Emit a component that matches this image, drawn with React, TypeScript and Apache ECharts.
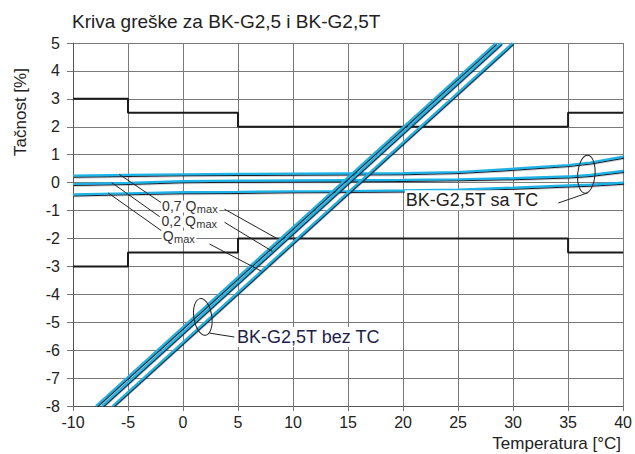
import React, { useEffect, useRef } from "react";
import * as echarts from "echarts";

// ---- data ----
const temperatures = [-10, -5, 0, 5, 10, 15, 20, 25, 30, 35, 37, 40];
const saTC_07Qmax = [0.25, 0.28, 0.3, 0.31, 0.32, 0.33, 0.34, 0.38, 0.5, 0.63, 0.72, 0.93];
const saTC_02Qmax = [-0.05, -0.01, 0.05, 0.07, 0.08, 0.09, 0.1, 0.12, 0.16, 0.22, 0.28, 0.42];
const saTC_Qmax = [-0.42, -0.38, -0.34, -0.33, -0.31, -0.3, -0.28, -0.25, -0.18, -0.1, -0.07, 0.0];

const bezTC_errors = [-8, 5];
const bezTC_temps_07Qmax = [-7.92, 28.43];
const bezTC_temps_02Qmax = [-7.37, 28.92];
const bezTC_temps_Qmax = [-6.4, 29.95];

const limitTemps = [-10, -5, 5, 35, 40];
const upperLimit = [3, 2.5, 2, 2.5, 2.5];
const lowerLimit = [-3, -2.5, -2, -2.5, -2.5];

const title = "Kriva greške za BK-G2,5 i BK-G2,5T";
const yName = "Tačnost [%]";
const xName = "Temperatura [°C]";
const labelSaTC = "BK-G2,5T sa TC";
const labelBezTC = "BK-G2,5T bez TC";
const qLabels = ["0,7 Q", "0,2 Q", "Q"];
const qSub = "max";

const FONT = "Liberation Sans, Arial, sans-serif";
const BLUE = "#1db3e6";
const DARK = "#1a1a1a";

const zip = (xs: number[], ys: number[]) => xs.map((x, i) => [x, ys[i]]);

function measure(text: string, size: number) {
  const c = document.createElement("canvas").getContext("2d");
  if (!c) return text.length * size * 0.55;
  c.font = `${size}px ${FONT}`;
  return c.measureText(text).width;
}

export default function App() {
  const ref = useRef<HTMLDivElement>(null);
  useEffect(() => {
    if (!ref.current) return;
    const chart = echarts.init(ref.current, null, { renderer: "svg" });
    const blueStyle = {
      color: BLUE,
      width: 2.2,
      shadowColor: "#1a1a2a",
      shadowBlur: 0,
      shadowOffsetX: 0.8,
      shadowOffsetY: 1.2,
    };
    const blueSeries = (data: number[][]) => ({
      type: "line",
      data,
      symbol: "none",
      lineStyle: blueStyle,
      z: 4,
      silent: true,
    });
    chart.setOption({
      animation: false,
      backgroundColor: "#fff",
      grid: { left: 73, right: 10, top: 43, bottom: 48 },
      xAxis: {
        type: "value",
        min: -10,
        max: 40,
        interval: 5,
        axisLine: { show: true, onZero: false, lineStyle: { color: "#555", width: 1 } },
        axisTick: { show: true, length: 5, lineStyle: { color: "#777" } },
        axisLabel: { color: "#222", fontSize: 16, fontFamily: FONT, margin: 8 },
        splitLine: { show: true, lineStyle: { color: "#7a7a7a", width: 1 } },
      },
      yAxis: {
        type: "value",
        min: -8,
        max: 5,
        interval: 1,
        axisLine: { show: true, onZero: false, lineStyle: { color: "#555", width: 1 } },
        axisTick: { show: true, length: 6, lineStyle: { color: "#777" } },
        axisLabel: { color: "#222", fontSize: 16, fontFamily: FONT, margin: 13 },
        splitLine: { show: true, lineStyle: { color: "#7a7a7a", width: 1 } },
      },
      series: [
        {
          type: "line",
          step: "end",
          data: zip(limitTemps, upperLimit),
          symbol: "none",
          lineStyle: { color: DARK, width: 2 },
          z: 3,
        },
        {
          type: "line",
          step: "end",
          data: zip(limitTemps, lowerLimit),
          symbol: "none",
          lineStyle: { color: DARK, width: 2 },
          z: 3,
        },
        blueSeries(zip(temperatures, saTC_07Qmax)),
        blueSeries(zip(temperatures, saTC_02Qmax)),
        blueSeries(zip(temperatures, saTC_Qmax)),
        blueSeries(zip(bezTC_temps_07Qmax, bezTC_errors)),
        blueSeries(zip(bezTC_temps_02Qmax, bezTC_errors)),
        blueSeries(zip(bezTC_temps_Qmax, bezTC_errors)),
      ],
    });

    const px = (t: number, v: number) =>
      chart.convertToPixel({ gridIndex: 0 } as any, [t, v]) as number[];

    const leader = (a: number[], b: number[]) => {
      const p = px(a[0], a[1]);
      const q = px(b[0], b[1]);
      return {
        type: "line",
        shape: { x1: p[0], y1: p[1], x2: q[0], y2: q[1] },
        style: { stroke: "#222", lineWidth: 1 },
        z: 10,
      };
    };
    const leaders = [
      [[-5.81, 0.3], [-1.97, -0.72]],
      [[3.77, -0.95], [8.48, -1.99]],
      [[-6.49, 0.0], [-2.12, -1.22]],
      [[3.77, -1.42], [8.12, -2.46]],
      [[-6.8, -0.37], [-1.97, -1.72]],
      [[2.41, -2.2], [7.12, -3.17]],
      [[36.83, -0.36], [34.11, -0.73]],
      [[2.41, -5.39], [4.67, -5.53]],
    ];
    const qPos = [
      [-1.9, -0.82],
      [-1.95, -1.36],
      [-1.85, -1.9],
    ];
    const elements: any[] = leaders.map((l) => leader(l[0], l[1]));
    const baseSize = 14;
    const subSize = 11;
    qLabels.forEach((txt, i) => {
      const p = px(qPos[i][0], qPos[i][1]);
      const w = measure(txt, baseSize);
      const ws = measure(qSub, subSize);
      elements.push({
        type: "rect",
        shape: { x: p[0] - 1, y: p[1] - 5, width: w + ws + 3, height: 12 },
        style: { fill: "#fff" },
        z: 15,
      });
      elements.push({
        type: "text",
        x: p[0],
        y: p[1],
        z: 20,
        style: {
          text: txt,
          fontSize: baseSize,
          fontFamily: FONT,
          fill: "#333",
          align: "left",
          textAlign: "left",
          verticalAlign: "middle",
          textVerticalAlign: "middle",
        },
      });
      elements.push({
        type: "text",
        x: p[0] + w + 0.5,
        y: p[1] + 3.5,
        z: 20,
        style: {
          text: qSub,
          fontSize: subSize,
          fontFamily: FONT,
          fill: "#333",
          align: "left",
          textAlign: "left",
          verticalAlign: "middle",
          textVerticalAlign: "middle",
        },
      });
    });
    const ell = (t: number, v: number, rx: number, ry: number, rot: number) => {
      const p = px(t, v);
      return {
        type: "ellipse",
        x: p[0],
        y: p[1],
        rotation: rot,
        shape: { cx: 0, cy: 0, rx, ry },
        style: { fill: "none", stroke: "#222", lineWidth: 1 },
        z: 10,
      };
    };
    elements.push(ell(36.66, 0.3, 8.7, 19, -0.08));
    elements.push(ell(1.8, -4.81, 9, 18.5, 0.15));
    const textEl = (t: number, v: number, text: string, color: string, size: number) => {
      const p = px(t, v);
      return {
        type: "text",
        x: p[0],
        y: p[1],
        z: 20,
        style: {
          text,
          fontSize: size,
          fontFamily: FONT,
          fill: color,
          align: "left",
          textAlign: "left",
          verticalAlign: "middle",
          textVerticalAlign: "middle",
          backgroundColor: "#fff",
          padding: [1, 1, 1, 1],
        },
      };
    };
    elements.push(textEl(20.16, -0.63, labelSaTC, "#222", 18));
    elements.push(textEl(4.82, -5.53, labelBezTC, "#1e1e4a", 18));
    elements.push({
      type: "text",
      x: 72,
      y: 21,
      style: {
        text: title,
        fontSize: 19,
        fontFamily: FONT,
        fill: "#222",
        align: "left",
        textAlign: "left",
        verticalAlign: "middle",
        textVerticalAlign: "middle",
      },
    });
    elements.push({
      type: "text",
      x: 20,
      y: 112,
      rotation: Math.PI / 2,
      style: {
        text: yName,
        fontSize: 17,
        fontFamily: FONT,
        fill: "#222",
        align: "center",
        textAlign: "center",
        verticalAlign: "middle",
        textVerticalAlign: "middle",
      },
    });
    elements.push({
      type: "text",
      x: 621,
      y: 443,
      style: {
        text: xName,
        fontSize: 17,
        fontFamily: FONT,
        fill: "#222",
        align: "right",
        textAlign: "right",
        verticalAlign: "middle",
        textVerticalAlign: "middle",
      },
    });
    chart.setOption({ graphic: { elements } });
    return () => chart.dispose();
  }, []);
  return (
    <div
      ref={ref}
      style={{ position: "absolute", left: 0, top: 0, width: 635, height: 454, background: "#fff" }}
    />
  );
}
